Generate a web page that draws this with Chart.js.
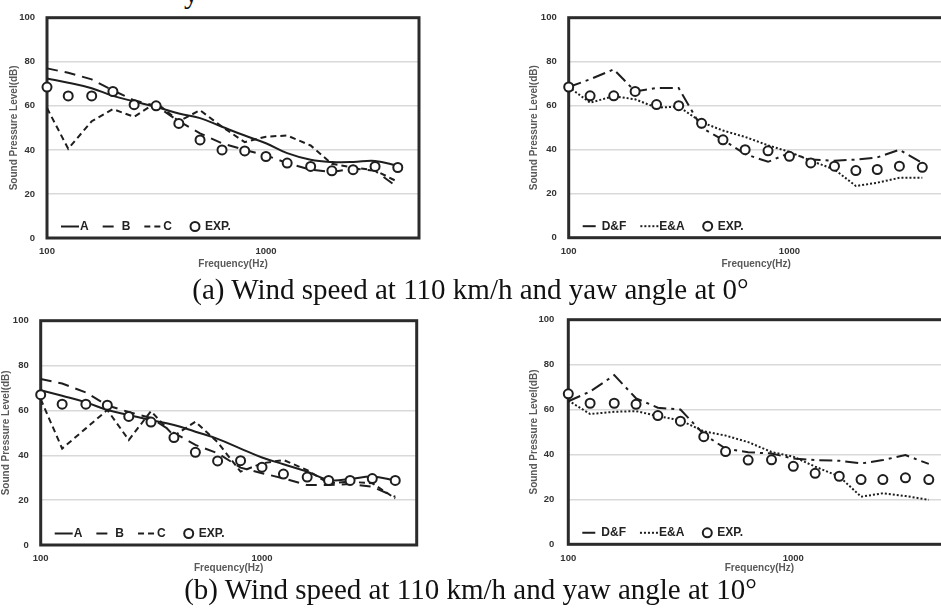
<!DOCTYPE html>
<html>
<head>
<meta charset="utf-8">
<script src="https://cdn.jsdelivr.net/npm/chart.js@4.4.0/dist/chart.umd.min.js"></script>
<style>
  html, body { margin: 0; padding: 0; background: #fff; overflow: hidden; width: 941px; height: 613px; }
  canvas { position: absolute; }
  .caption { position: absolute; left: 0; width: 941px; text-align: center; font-family: "Liberation Serif", "Times New Roman", serif; font-size: 29px; line-height: 29px; color: #111; white-space: nowrap; }
</style>
</head>
<body>
<div class="caption" style="left:184px;width:auto;top:-21px;">y</div>
<canvas id="pa0" width="427" height="270" style="left:0px;top:0px;"></canvas>
<canvas id="pb0" width="432" height="270" style="left:520px;top:0px;"></canvas>
<canvas id="pa10" width="425" height="274" style="left:0px;top:300px;"></canvas>
<canvas id="pb10" width="440" height="274" style="left:520px;top:300px;"></canvas>
<div class="caption" style="top:275px;">(a) Wind speed at 110 km/h and yaw angle at 0°</div>
<div class="caption" style="top:575px;">(b) Wind speed at 110 km/h and yaw angle at 10°</div>
<script>
// 1/3 octave band centres (Hz)
const freqs = [100, 125, 160, 200, 250, 315, 400, 500, 630, 800, 1000, 1250, 1600, 2000, 2500, 3150, 4000];
const xTicks = [100, 1000];
const yMin = 0, yMax = 100, yStep = 20;

// (a) yaw 0
const exp0 = [68.5, 64.5, 64.5, 66.5, 60.5, 60, 52, 44.5, 40, 39.5, 37, 34, 32.5, 30.5, 31, 32.5, 32];
const a0 = [72.4, 70.5, 68, 64.5, 62, 59.5, 56.5, 54.4, 50.5, 46.5, 43, 38.5, 35.5, 34.5, 34.5, 35, 32.7];
const b0 = [77, 75, 72, 67, 62.5, 60, 53, 47.5, 43, 40, 37.5, 34, 31, 30, 31.5, 30.5, 23];
const c0 = [59, 40.5, 53, 58.5, 55, 61.5, 53, 58, 50.5, 43.5, 46, 46.5, 42, 33.7, 32, 30.7, 25.5];
const df0 = [68.5, 72, 76.5, 66.5, 68, 68, 50, 44.5, 38, 34.5, 38.5, 35.5, 35, 35.5, 36.5, 40, 34];
const ea0 = [68.5, 61.4, 64.3, 62.9, 59.1, 59.6, 52.5, 48.7, 45.8, 42, 39, 35, 31, 23.5, 25, 27.2, 27.2];

// (b) yaw 10
const exp10 = [67, 62.8, 62.8, 62.3, 57.3, 54.8, 47.9, 41.3, 37.5, 37.6, 34.7, 31.6, 30.3, 28.8, 28.8, 29.6, 28.8];
const a10 = [69, 66.5, 63.6, 60.2, 58, 55.7, 53.5, 50.5, 47.3, 43, 39, 36, 32.7, 29, 29.4, 30.5, 28.7];
const b10 = [74, 72, 68, 62.2, 59.3, 56.6, 50, 44.6, 40.9, 34.5, 32, 29.7, 26.7, 26.7, 27.2, 26, 21.5];
const c10 = [65, 43, 52, 60.2, 46.8, 59.7, 48.6, 55, 45.8, 32.7, 36.4, 37.9, 33.4, 27.5, 28.2, 27.5, 20.8];
const df10 = [63.7, 68, 75.3, 65, 60.8, 60, 49, 42.6, 41, 40.4, 38.2, 37.5, 37.2, 36, 37.5, 39.7, 35.8];
const ea10 = [64, 58, 59, 59.3, 57.1, 55.2, 50.3, 48.4, 45.5, 41.1, 39, 34.6, 30.2, 21.2, 22.7, 21.5, 19.8];

Chart.defaults.font.family = '"Liberation Sans", Arial, sans-serif';
Chart.defaults.animation = false;

const ink = '#1e1e1e';

function pts(vals) {
  return freqs.map((f, i) => ({ x: f, y: vals[i] }));
}

function lineSet(label, vals, dash, tension) {
  return {
    label: label, data: pts(vals), borderColor: ink, borderWidth: 2,
    borderDash: dash, pointRadius: 0, tension: tension || 0, clip: false, order: 1
  };
}

function expSet(vals) {
  return {
    label: 'EXP.', data: pts(vals), showLine: false, borderColor: ink, borderWidth: 2,
    pointStyle: 'circle', pointRadius: 4.5, pointBackgroundColor: '#fff', pointBorderColor: ink,
    pointBorderWidth: 2, clip: false, order: 0
  };
}

// thick box round the plot area
const frame = {
  id: 'frame',
  beforeDatasetsDraw(chart) {
    const a = chart.chartArea, ctx = chart.ctx;
    ctx.save();
    ctx.strokeStyle = '#2b2b2b';
    ctx.lineWidth = 3;
    ctx.strokeRect(a.left, a.top, a.right - a.left, a.bottom - a.top);
    ctx.restore();
  }
};

// legend drawn inside the plot, bottom-left
const insideLegend = {
  id: 'insideLegend',
  afterDraw(chart) {
    const ctx = chart.ctx, a = chart.chartArea;
    let x = a.left + 14;
    const y = a.bottom - 11.5;
    ctx.save();
    ctx.font = 'bold 12px "Liberation Sans", Arial, sans-serif';
    ctx.textBaseline = 'middle';
    chart.data.datasets.forEach(ds => {
      if (ds.showLine === false) {
        ctx.setLineDash([]);
        ctx.beginPath();
        ctx.arc(x + 9, y, 4.5, 0, Math.PI * 2);
        ctx.fillStyle = '#fff';
        ctx.fill();
        ctx.lineWidth = 2;
        ctx.strokeStyle = ds.borderColor;
        ctx.stroke();
      } else {
        ctx.setLineDash(ds.borderDash || []);
        ctx.lineWidth = ds.borderWidth;
        ctx.strokeStyle = ds.borderColor;
        ctx.beginPath();
        ctx.moveTo(x, y);
        ctx.lineTo(x + 18, y);
        ctx.stroke();
      }
      x += 19;
      ctx.fillStyle = '#222';
      ctx.fillText(ds.label, x, y);
      x += ctx.measureText(ds.label).width + 14;
    });
    ctx.restore();
  }
};

function makePanel(id, box, datasets) {
  new Chart(document.getElementById(id), {
    type: 'line',
    data: { datasets: datasets },
    plugins: [frame, insideLegend],
    options: {
      responsive: false,
      devicePixelRatio: 1,
      layout: { padding: { top: box.padTop, right: box.padRight, left: 0, bottom: 0 } },
      plugins: { legend: { display: false }, tooltip: { enabled: false } },
      scales: {
        x: {
          type: 'logarithmic', min: 100, max: 5000,
          afterBuildTicks: s => { s.ticks = xTicks.map(v => ({ value: v })); },
          afterFit: s => { s.height = box.xH; },
          grid: { display: false, drawTicks: false },
          border: { display: false },
          ticks: { autoSkip: false, maxRotation: 0, padding: 8, color: '#333',
                   font: { size: 9.5, weight: 'bold' }, callback: v => String(v) },
          title: { display: true, text: 'Frequency(Hz)', color: '#595959',
                   font: { size: 10, weight: 'bold' }, padding: { top: 0, bottom: 0 } }
        },
        y: {
          min: yMin, max: yMax,
          afterFit: s => { s.width = box.yW; },
          grid: { color: '#d9d9d9', lineWidth: 1.5, drawTicks: false },
          border: { display: false },
          ticks: { stepSize: yStep, padding: box.tickPad, color: '#333', font: { size: 9.5, weight: 'bold' } },
          title: { display: true, text: 'Sound Pressure Level(dB)', color: '#595959',
                   font: { size: 10, weight: 'bold' }, padding: { top: box.titlePad, bottom: 0 } }
        }
      }
    }
  });
}

makePanel('pa0', { padTop: 16, padRight: 8, yW: 47, xH: 32, titlePad: 8, tickPad: 12 }, [
  lineSet('A', a0, [], 0.4),
  lineSet('B', b0, [11, 7]),
  lineSet('C', c0, [6, 4]),
  expSet(exp0)
]);

makePanel('pb0', { padTop: 13.3, padRight: 8.3, yW: 48.7, xH: 32.3, titlePad: 8.5, tickPad: 12 }, [
  lineSet('D&F', df0, [13, 5, 3, 5]),
  lineSet('E&A', ea0, [2, 2]),
  expSet(exp0)
]);

makePanel('pa10', { padTop: 20.7, padRight: 8.3, yW: 40.7, xH: 29, titlePad: 0.7, tickPad: 12 }, [
  lineSet('A', a10, [], 0.4),
  lineSet('B', b10, [11, 7]),
  lineSet('C', c10, [6, 4]),
  expSet(exp10)
]);

makePanel('pb10', { padTop: 15, padRight: 9.4, yW: 48.3, xH: 29.7, titlePad: 8, tickPad: 14 }, [
  lineSet('D&F', df10, [13, 5, 3, 5]),
  lineSet('E&A', ea10, [2, 2]),
  expSet(exp10)
]);
</script>
</body>
</html>
